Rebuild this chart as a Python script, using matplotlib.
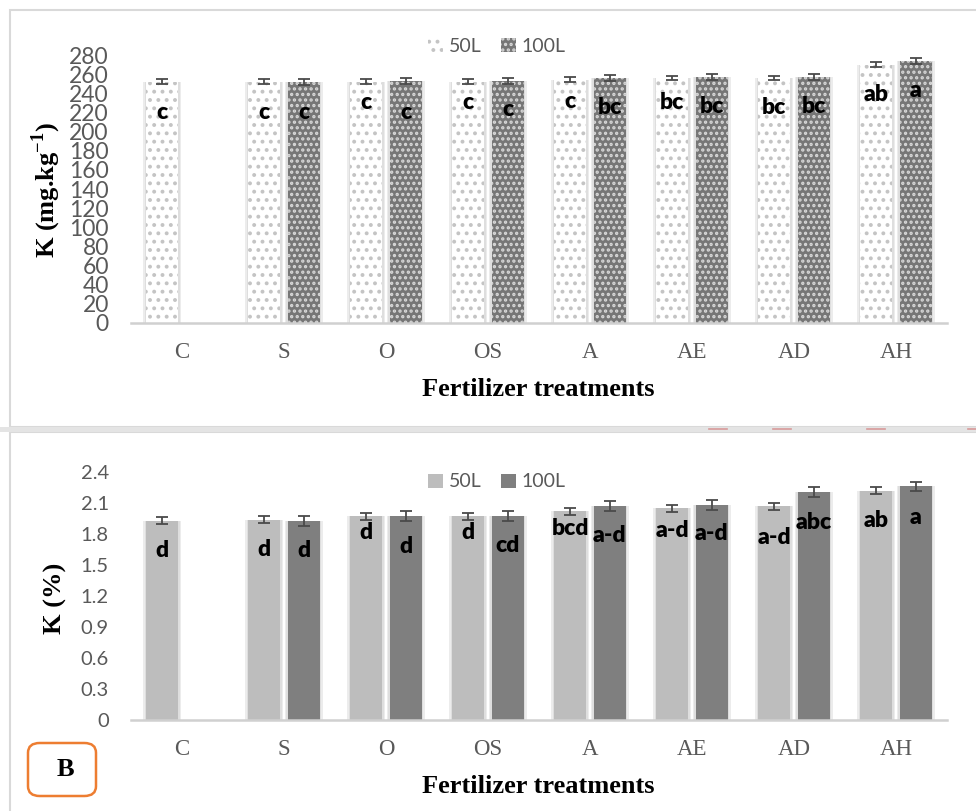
import numpy as np
import matplotlib
matplotlib.use("Agg")
import matplotlib.pyplot as plt
from matplotlib.patches import Rectangle, FancyBboxPatch
from matplotlib.lines import Line2D

plt.rcParams['mathtext.fontset'] = 'custom'
plt.rcParams['mathtext.rm'] = 'Liberation Serif'
plt.rcParams['mathtext.bf'] = 'Liberation Serif:bold'
plt.rcParams['hatch.linewidth'] = 1.6

# ---------------- data ----------------
categories = ["C", "S", "O", "OS", "A", "AE", "AD", "AH"]
series_names = ["50L", "100L"]

k_mg_50 = [252, 252, 252, 252, 254, 256, 256, 270]
k_mg_100 = [np.nan, 252, 253, 253, 256, 257, 257, 274]
k_mg_err_50 = [2.5, 2.5, 2.5, 2.5, 2.5, 2.5, 2.5, 2.5]
k_mg_err_100 = [np.nan, 3.2, 3.2, 3.2, 3.2, 3.2, 3.2, 3.2]
k_mg_letters_50 = ["c", "c", "c", "c", "c", "bc", "bc", "ab"]
k_mg_letters_100 = ["", "c", "c", "c", "bc", "bc", "bc", "a"]

k_pct_50 = [1.93, 1.94, 1.97, 1.97, 2.02, 2.05, 2.07, 2.22]
k_pct_100 = [np.nan, 1.93, 1.97, 1.97, 2.07, 2.08, 2.21, 2.26]
k_pct_err_50 = [0.034, 0.034, 0.034, 0.034, 0.034, 0.034, 0.034, 0.034]
k_pct_err_100 = [np.nan, 0.048, 0.048, 0.048, 0.048, 0.048, 0.048, 0.048]
k_pct_letters_50 = ["d", "d", "d", "d", "bcd", "a-d", "a-d", "ab"]
k_pct_letters_100 = ["", "d", "d", "cd", "a-d", "a-d", "abc", "a"]

top_ticks = list(range(0, 281, 20))
bottom_ticks = [0, 0.3, 0.6, 0.9, 1.2, 1.5, 1.8, 2.1, 2.4]
bottom_ticklabels = ['0', '0.3', '0.6', '0.9', '1.2', '1.5', '1.8', '2.1', '2.4']

# label offsets below bar tops (pixels) - styling only
top_off_50 = [31, 31, 21, 21, 22, 25, 30, 30]
top_off_100 = [0, 31, 32, 29, 30, 29, 29, 30]
bot_off_50 = [30, 30, 16, 16, 17, 22, 31, 30]
bot_off_100 = [0, 30, 30, 29, 29, 28, 31, 31]

W, H = 976, 811
fig = plt.figure(figsize=(W / 100, H / 100), dpi=100)

def fx(px):
    return px / W

def fy(py):
    return 1 - py / H

# panel borders
border = '#d9d9d9'
fig.add_artist(Rectangle((fx(10), fy(427)), fx(980) - fx(10), fy(10) - fy(427),
                         transform=fig.transFigure, fill=False, ec=border, lw=1.5))
fig.add_artist(Rectangle((fx(10), fy(830)), fx(980) - fx(10), fy(432) - fy(830),
                         transform=fig.transFigure, fill=False, ec=border, lw=1.5))
fig.add_artist(Rectangle((0, fy(432)), 1, fy(427) - fy(432), transform=fig.transFigure,
                         fc='#e4e4e4', ec='none'))
for x0 in [709, 773, 867, 968]:
    fig.add_artist(Line2D([fx(x0), fx(x0 + 18)], [fy(429.5), fy(429.5)],
                          transform=fig.transFigure, color='#d79a9a', lw=1.2))

tick_color = '#595959'
sans = ['Lato', 'DejaVu Sans']
serif = ['Liberation Serif', 'DejaVu Serif']

L, R = 131, 947
ax1 = fig.add_axes([fx(L), fy(323), fx(R) - fx(L), fy(55) - fy(323)])
ax2 = fig.add_axes([fx(L), fy(720), fx(R) - fx(L), fy(472) - fy(720)])

x = np.arange(len(categories))
bw = 0.31
off = 0.195

def style_axes(ax, ticks, ylim, ticksize, ticklabels):
    ax.set_xlim(-0.5, len(categories) - 0.5)
    ax.set_ylim(*ylim)
    for s in ['top', 'right', 'left']:
        ax.spines[s].set_visible(False)
    ax.spines['bottom'].set_color('#d0d0d0')
    ax.spines['bottom'].set_linewidth(1.8)
    ax.set_yticks(ticks)
    ax.set_yticklabels(ticklabels, fontfamily=sans, fontsize=ticksize, color=tick_color)
    ax.set_xticks(x)
    ax.set_xticklabels(categories, fontfamily=serif, fontsize=16.5, color=tick_color)
    ax.tick_params(axis='both', length=0)
    ax.tick_params(axis='x', pad=14)
    ax.tick_params(axis='y', pad=16)
    ax.patch.set_alpha(0)

def glow(ax, xs, vals):
    ax.bar(xs, vals, bw + 0.07, color='#ececec', zorder=1, lw=0)
    ax.bar(xs, vals, bw + 0.035, color='#dedede', zorder=1.5, lw=0)

def add_letters(ax, xs, vals, letters, offs):
    for xi, v, t, o in zip(xs, vals, letters, offs):
        if t and not np.isnan(v):
            ax.annotate(t, (xi, v), xytext=(0, -o), textcoords='offset pixels',
                        ha='center', va='center', fontfamily=sans, fontweight='heavy',
                        fontsize=16.5, color='black', zorder=6)

ebkw = dict(fmt='none', ecolor='#4a4a4a', elinewidth=1.3, capsize=4, capthick=1.3, zorder=5)
legkw = dict(loc='center', bbox_transform=fig.transFigure, ncol=2, frameon=False,
             prop={'family': sans, 'size': 14}, labelcolor=tick_color,
             handlelength=0.75, handleheight=0.75, handletextpad=0.3, columnspacing=1.0)

# ---- top panel ----
style_axes(ax1, top_ticks, (0, 280), 16.5, [str(t) for t in top_ticks])
glow(ax1, x - off, k_mg_50)
glow(ax1, x + off, k_mg_100)
b50 = ax1.bar(x - off, k_mg_50, bw, facecolor='white', edgecolor='#c4c4c4', hatch='..',
              lw=0, zorder=2, label=series_names[0])
b100 = ax1.bar(x + off, k_mg_100, bw, facecolor='#767676', edgecolor='#d8d8d8', hatch='...',
               lw=0, zorder=2, label=series_names[1])
ax1.errorbar(x - off, k_mg_50, yerr=k_mg_err_50, **ebkw)
ax1.errorbar(x + off, k_mg_100, yerr=k_mg_err_100, **ebkw)
add_letters(ax1, x - off, k_mg_50, k_mg_letters_50, top_off_50)
add_letters(ax1, x + off, k_mg_100, k_mg_letters_100, top_off_100)
ax1.set_ylabel(r'K (mg.kg$^{\mathbf{-1}}$)', fontfamily=serif, fontweight='bold',
               fontsize=19, color='black')
ax1.set_xlabel('Fertilizer treatments', fontfamily=serif, fontweight='bold',
               fontsize=19, color='black')
ax1.legend(handles=[b50, b100], bbox_to_anchor=(fx(497), fy(46)), **legkw)

# ---- bottom panel ----
style_axes(ax2, bottom_ticks, (0, 2.4), 14.5, bottom_ticklabels)
glow(ax2, x - off, k_pct_50)
glow(ax2, x + off, k_pct_100)
c50 = ax2.bar(x - off, k_pct_50, bw, color='#bdbdbd', lw=0, zorder=2, label=series_names[0])
c100 = ax2.bar(x + off, k_pct_100, bw, color='#7f7f7f', lw=0, zorder=2, label=series_names[1])
ax2.errorbar(x - off, k_pct_50, yerr=k_pct_err_50, **ebkw)
ax2.errorbar(x + off, k_pct_100, yerr=k_pct_err_100, **ebkw)
add_letters(ax2, x - off, k_pct_50, k_pct_letters_50, bot_off_50)
add_letters(ax2, x + off, k_pct_100, k_pct_letters_100, bot_off_100)
ax2.set_ylabel('K (%)', fontfamily=serif, fontweight='bold', fontsize=19, color='black')
ax2.set_xlabel('Fertilizer treatments', fontfamily=serif, fontweight='bold',
               fontsize=19, color='black')
ax2.legend(handles=[c50, c100], bbox_to_anchor=(fx(497), fy(482)), **legkw)

# label positions (ylabel anchor = right edge of rotated text, xlabel anchor = top)
ax1.yaxis.set_label_coords((63 - L) / (R - L), (323 - 190) / 268)
ax2.yaxis.set_label_coords((67 - L) / (R - L), (720 - 598) / 248)
ax1.xaxis.set_label_coords((538 - L) / (R - L), -(378 - 323) / 268)
ax2.xaxis.set_label_coords((538 - L) / (R - L), -(775 - 720) / 248)

# "B" box
fig.add_artist(FancyBboxPatch((fx(28), fy(796)), fx(96) - fx(28), fy(743) - fy(796),
                              boxstyle='round,pad=0,rounding_size=0.012',
                              transform=fig.transFigure, fc='white', ec='#ed7d31', lw=1.8))
fig.text(fx(65), fy(770), 'B', ha='center', va='center', fontfamily=serif,
         fontweight='bold', fontsize=19, color='black')

fig.savefig('out.png', dpi=100)
